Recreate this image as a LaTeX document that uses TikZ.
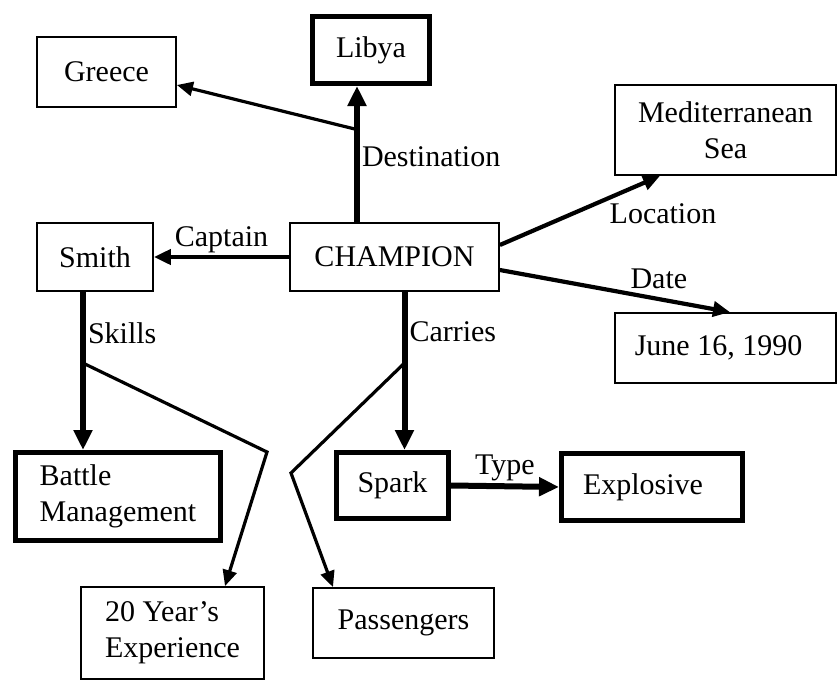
\documentclass[tikz,border=0pt]{standalone}
\usepackage{fontspec}
\setmainfont{Liberation Serif}
\usetikzlibrary{arrows.meta}

\begin{document}
\begin{tikzpicture}[x=1pt,y=-1pt,
        every node/.style={font=\fontsize{30}{36}\selectfont},
        box/.style={draw,line width=1.8pt,inner sep=0pt,align=center},
        heavybox/.style={box,line width=5pt},
        bigarrow/.style={line width=6pt,-{Triangle[length=20pt,width=18pt]}},
        midarrow/.style={line width=4.2pt,-{Triangle[length=17pt,width=15pt]}},
        smallarrow/.style={line width=3.2pt,-{Triangle[length=16pt,width=14pt]}},
        tag/.style={inner sep=2pt}]
        \path[fill=white,use as bounding box] (0,0) rectangle (838,683);

        \node[box,minimum width=139,minimum height=70] at (106.5,72) (greece) {Greece};
        \node[heavybox,minimum width=117,minimum height=67] at (371,50) (libya) {Libya};
        \node[box,minimum width=221,minimum height=90] at (725.5,130) (med) {Mediterranean\\Sea};
        \node[box,minimum width=116,minimum height=68] at (95,257) (smith) {Smith};
        \node[box,minimum width=209,minimum height=68] at (394.5,257) (champ) {CHAMPION};
        \node[box,minimum width=221,minimum height=70] at (725.5,348) (june) {\hspace*{-14pt}June 16, 1990};
        \node[heavybox,align=left,minimum width=205,minimum height=88] at (118,496.5) (battle) {Battle\\Management};
        \node[box,align=left,minimum width=183,minimum height=92] at (172.5,633) (exp) {20 Year’s\\Experience};
        \node[heavybox,minimum width=112,minimum height=66] at (392.5,485.5) (spark) {Spark};
        \node[heavybox,minimum width=181,minimum height=67] at (652,487) (explosive) {\hspace*{-18pt}Explosive};
        \node[box,minimum width=181,minimum height=70] at (403.5,623) (passengers) {Passengers};

        \coordinate (skillbend) at (267,452);
        \coordinate (carrybend) at (291,473);

        \draw[bigarrow] ([xshift=-37.5pt]champ.north) -- ([xshift=-37.5pt]champ.north |- libya.south)
                node[tag,pos=.48,right] {Destination}
                coordinate[pos=.68] (destfork);
        \draw[smallarrow] (destfork) -- ([yshift=-13pt]greece.east);
        \draw[midarrow] (champ.west) -- (smith.east) node[tag,midway,above] {Captain};
        \draw[midarrow] ([yshift=12pt]champ.east) -- ([xshift=-65.5pt]med.south)
                node[tag,pos=.66,anchor=north west] {Location};
        \draw[midarrow] ([yshift=-13pt]champ.east) -- ([xshift=4.5pt]june.north)
                node[tag,pos=.55,anchor=south west] {Date};
        \draw[bigarrow] ([xshift=-12pt]smith.south) -- ([xshift=-12pt]smith.south |- battle.north)
                node[tag,pos=.26,right] {Skills}
                coordinate[pos=.45] (skillfork);
        \draw[smallarrow] (skillfork) -- (skillbend) -- ([xshift=52.5pt]exp.north);
        \draw[bigarrow] ([xshift=10pt]champ.south) -- ([xshift=10pt]champ.south |- spark.north)
                node[tag,pos=.25,right] {Carries}
                coordinate[pos=.45] (carryfork);
        \draw[smallarrow] (carryfork) -- (carrybend) -- ([xshift=-70.5pt]passengers.north);
        \draw[bigarrow] (spark.east) -- (explosive.west) node[tag,midway,above] {Type};

        %\draw (champ) -- (libya) -- (greece);
    \end{tikzpicture}
\end{document}
